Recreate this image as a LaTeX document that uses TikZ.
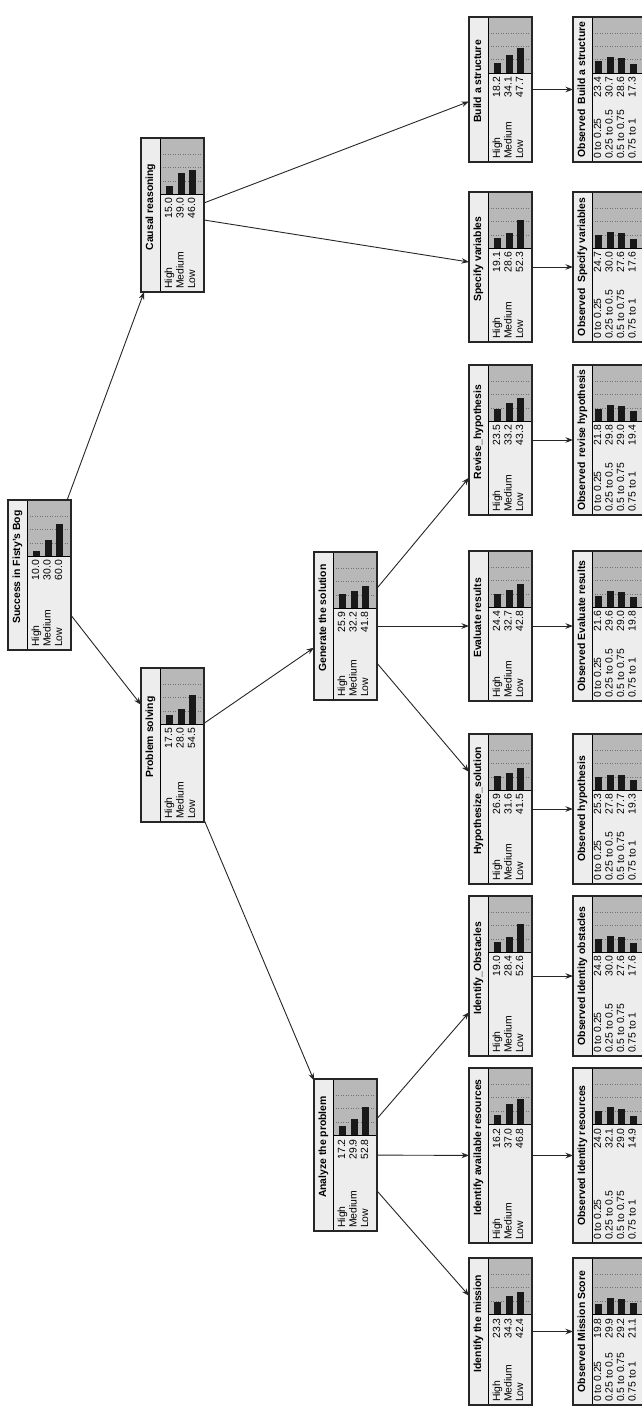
\documentclass[tikz,border=0pt]{standalone}
\usepackage{fontspec}
\setmainfont{Liberation Sans}
\usetikzlibrary{arrows.meta}
\definecolor{chartgray}{gray}{0.72}
\definecolor{lightbg}{gray}{0.93}
\definecolor{barblack}{gray}{0.1}
\tikzset{
  lbl/.style={rotate=90,inner sep=0pt,font=\fontsize{10.4}{11}\selectfont,text height=7.5pt,text depth=2.1pt},
  ttl/.style={rotate=90,inner sep=0pt,font=\fontsize{10.4}{11}\selectfont\bfseries,text height=7.5pt,text depth=2.1pt},
  frame/.style={draw=black!85,line width=1.2pt,inner sep=0pt,outer sep=0pt,anchor=north west},
  gridl/.style={draw=black!55,line width=0.5pt,dotted},
  arr/.style={draw=black!85,line width=0.9pt,-{Stealth[length=7.5pt,width=5.5pt]}},
}
% name, x0, y0, length, title, v1, v2, v3
\newcommand{\bnd}[8]{%
  \pgfmathsetmacro{\xo}{#2}\pgfmathsetmacro{\yo}{#3}\pgfmathsetmacro{\wl}{#4}%
  \pgfmathsetmacro{\xs}{\xo+19}\pgfmathsetmacro{\xe}{\xo+63}%
  \pgfmathsetmacro{\yb}{\yo+\wl}\pgfmathsetmacro{\yc}{\yo+56}%
  \fill[lightbg] (\xo,\yo) rectangle (\xe,\yb);
  \fill[chartgray] (\xs,\yo) rectangle (\xe,\yc);
  \foreach \p in {25,50,75}{\draw[gridl] (\xs,\yc-\p*0.53) -- (\xe,\yc-\p*0.53);}
  \draw[line width=0.8pt] (\xs,\yo) -- (\xs,\yb);
  \draw[line width=0.8pt] (\xs,\yc) -- (\xe,\yc);
  \foreach \v [count=\i from 0] in {#6,#7,#8}{%
    \pgfmathsetmacro{\xr}{\xs+9.5+11.5*\i}%
    \fill[barblack] (\xr-3.5,\yc) rectangle ++(7,-\v*0.53);
    \node[lbl,anchor=east] at (\xr,\yc+4) {\v};
  }
  \foreach \t [count=\i from 0] in {High,Medium,Low}{%
    \pgfmathsetmacro{\xr}{\xs+9.5+11.5*\i}%
    \node[lbl,anchor=west] at (\xr,\yb-3) {\t};
  }
  \node[ttl] at (\xo+9.5,\yo+\wl/2-8) {#5};
  \node[frame,minimum width=63pt,minimum height=#4pt] (#1) at (\xo,\yo) {};
}
% name, x0, y0, length, title, v1..v4
\newcommand{\obsnd}[9]{%
  \pgfmathsetmacro{\xo}{#2}\pgfmathsetmacro{\yo}{#3}\pgfmathsetmacro{\wl}{#4}%
  \pgfmathsetmacro{\xs}{\xo+19}\pgfmathsetmacro{\xe}{\xo+80}%
  \pgfmathsetmacro{\yb}{\yo+\wl}\pgfmathsetmacro{\yc}{\yo+56}%
  \fill[lightbg] (\xo,\yo) rectangle (\xe,\yb);
  \fill[chartgray] (\xs,\yo) rectangle (\xe,\yc);
  \foreach \p in {25,50,75}{\draw[gridl] (\xs,\yc-\p*0.53) -- (\xe,\yc-\p*0.53);}
  \draw[line width=0.8pt] (\xs,\yo) -- (\xs,\yb);
  \draw[line width=0.8pt] (\xs,\yc) -- (\xe,\yc);
  \foreach \v [count=\i from 0] in {#6,#7,#8,#9}{%
    \pgfmathsetmacro{\xr}{\xs+6.5+11.5*\i}%
    \fill[barblack] (\xr-3.5,\yc) rectangle ++(7,-\v*0.53);
    \node[lbl,anchor=east] at (\xr,\yc+4) {\v};
  }
  \foreach \t [count=\i from 0] in {0 to 0.25,0.25 to 0.5,0.5 to 0.75,0.75 to 1}{%
    \pgfmathsetmacro{\xr}{\xs+6.5+11.5*\i}%
    \node[lbl,anchor=west] at (\xr,\yb-3) {\t};
  }
  \node[ttl] at (\xo+9.5,\yo+\wl/2) {#5};
  \node[frame,minimum width=80pt,minimum height=#4pt] (#1) at (\xo,\yo) {};
}
\begin{document}
\begin{tikzpicture}[x=1pt,y=-1pt]
\useasboundingbox (0,0) rectangle (642,1410);
\fill[white] (0,0) rectangle (642,1410);
\clip (0,0) rectangle (642,1410);
\bnd{root}{8}{500}{150}{Success in Fisty's Bog}{10.0}{30.0}{60.0}
\bnd{causal}{141}{138}{154}{Causal reasoning}{15.0}{39.0}{46.0}
\bnd{prob}{141}{668}{154}{Problem solving}{17.5}{28.0}{54.5}
\bnd{gen}{314}{552}{148}{Generate the solution}{25.9}{32.2}{41.8}
\bnd{anal}{314}{1079}{152}{Analyze the problem}{17.2}{29.9}{52.8}
\bnd{build}{469}{17}{145}{Build a structure}{18.2}{34.1}{47.7}
\bnd{spec}{469}{192}{150}{Specify variables}{19.1}{28.6}{52.3}
\bnd{rev}{469}{365}{150}{Revise\_hypothesis}{23.5}{33.2}{43.3}
\bnd{eval}{469}{551}{150}{Evaluate results}{24.4}{32.7}{42.8}
\bnd{hyp}{469}{734}{150}{Hypothesize\_solution}{26.9}{31.6}{41.5}
\bnd{obst}{469}{896}{160}{Identify\_Obstacles}{19.0}{28.4}{52.6}
\bnd{res}{469}{1068}{175}{Identify available resources}{16.2}{37.0}{46.8}
\bnd{miss}{469}{1258}{147}{Identify the mission}{23.3}{34.3}{42.4}
\obsnd{obuild}{573}{17}{145}{Observed\enspace Build a structure}{23.4}{30.7}{28.6}{17.3}
\obsnd{ospec}{573}{192}{150}{Observed\enspace Specify variables}{24.7}{30.0}{27.6}{17.6}
\obsnd{orev}{573}{365}{150}{Observed\enspace revise hypothesis}{21.8}{29.8}{29.0}{19.4}
\obsnd{oeval}{573}{551}{150}{Observed Evaluate results}{21.6}{29.6}{29.0}{19.8}
\obsnd{ohyp}{573}{734}{150}{Observed hypothesis}{25.3}{27.8}{27.7}{19.3}
\obsnd{oobst}{573}{896}{160}{Observed Identity obstacles}{24.8}{30.0}{27.6}{17.6}
\obsnd{ores}{573}{1068}{175}{Observed Identity resources}{24.0}{32.1}{29.0}{14.9}
\obsnd{omiss}{573}{1258}{147}{Observed Mission Score}{19.8}{29.9}{29.2}{21.1}
\draw[arr] (root) -- (causal);
\draw[arr] (root) -- (prob);
\draw[arr] (causal) -- (build);
\draw[arr] (causal) -- (spec);
\draw[arr] (prob) -- (anal);
\draw[arr] (prob) -- (gen);
\draw[arr] (gen) -- (rev);
\draw[arr] (gen) -- (eval);
\draw[arr] (gen) -- (hyp);
\draw[arr] (anal) -- (obst);
\draw[arr] (anal) -- (res);
\draw[arr] (anal) -- (miss);
\foreach \a/\b in {build/obuild,spec/ospec,rev/orev,eval/oeval,hyp/ohyp,obst/oobst,res/ores,miss/omiss}{\draw[arr] (\a.east) -- (\b.west);}
\end{tikzpicture}
\end{document}
